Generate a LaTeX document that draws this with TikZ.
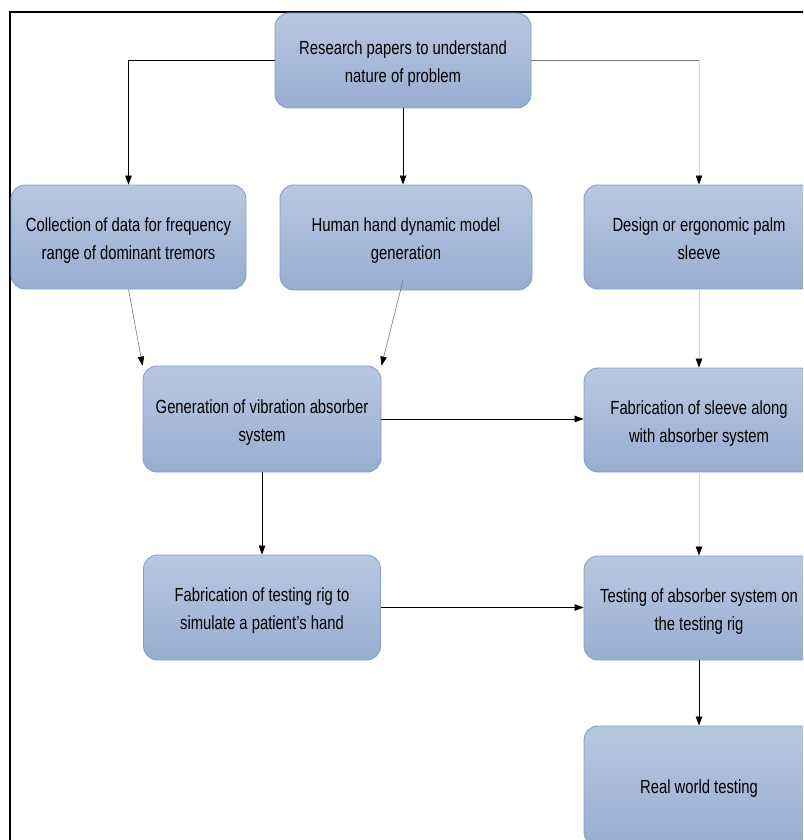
\documentclass[tikz,border=0pt]{standalone}
\usepackage{fontspec}
\setmainfont[FakeStretch=0.78]{Liberation Sans}
\usetikzlibrary{arrows.meta}
\definecolor{boxtop}{RGB}{184,200,225}
\definecolor{boxbot}{RGB}{151,173,209}
\definecolor{boxedge}{RGB}{132,158,203}
\definecolor{lightline}{RGB}{215,215,215}
\definecolor{midline}{RGB}{120,120,120}
\newcommand\myTS{\rule{0pt}{21pt}}
\newcommand\myBS{\rule[-5pt]{0pt}{5pt}}
\begin{document}
\begin{tikzpicture}[x=1pt,y=-1pt,
  box/.style={draw=boxedge, line width=0.9pt, rounded corners=14pt,
    top color=boxtop, bottom color=boxbot, align=center, inner sep=0pt,
    font=\fontsize{19}{28}\selectfont},
  tip/.style={-{Triangle[length=9pt,width=6.5pt,color=black]}},
  conn/.style={tip, line width=0.8pt, draw=black},
  lconn/.style={tip, line width=0.8pt, draw=lightline},
  dconn/.style={tip, line width=0.6pt, draw=midline}]
\useasboundingbox (0,0) rectangle (803,840);
\clip (0,0) rectangle (803,840);
\fill[white] (0,0) rectangle (803,840);
\draw[line width=2pt] (10,12) rectangle (840,880);

\node[box, minimum width=256pt, minimum height=95pt] (top) at (403,60.5)
  {\myTS Research papers to understand\\nature of problem\myBS};
\node[box, minimum width=235pt, minimum height=104pt] (coll) at (128.5,237)
  {\myTS Collection of data for frequency\\range of dominant tremors\myBS};
\node[box, minimum width=252pt, minimum height=105pt] (human) at (406,237.5)
  {\myTS Human hand dynamic model\\generation\myBS};
\node[box, minimum width=230pt, minimum height=104pt] (design) at (699,237)
  {\myTS Design or ergonomic palm\\sleeve\myBS};
\node[box, minimum width=238pt, minimum height=106pt] (gen) at (262,419)
  {\myTS Generation of vibration absorber\\system\myBS};
\node[box, minimum width=230pt, minimum height=104pt] (sleeve) at (699,420)
  {\myTS Fabrication of sleeve along\\with absorber system\myBS};
\node[box, minimum width=237pt, minimum height=105pt] (rig) at (262,607.5)
  {\myTS Fabrication of testing rig to\\simulate a patient's hand\myBS};
\node[box, minimum width=230pt, minimum height=104pt] (test) at (699,608)
  {\myTS Testing of absorber system on\\the testing rig\myBS};
\node[box, minimum width=230pt, minimum height=120pt] (real) at (699,786)
  {\rule{0pt}{20pt}Real world testing\myBS};

\coordinate (tr) at (top.east -| design.north);
\draw[conn] (top.west) -| (coll.north);
\draw[conn] (top.south) -- (top.south |- human.north);
\draw[midline, line width=0.8pt] (top.east) -- (tr);
\draw[lconn] (tr) -- (design.north);
\draw[dconn] (coll.south) -- (gen.north west);
\draw[dconn] ([xshift=-3pt,yshift=10pt]human.south) -- (gen.north east);
\draw[conn] (gen.east) -- (gen.east -| sleeve.west);
\draw[conn] (gen.south) -- (gen.south |- rig.north);
\draw[lconn] (design.south) -- (sleeve.north);
\draw[lconn] (sleeve.south) -- (test.north);
\draw[conn] (rig.east) -- (rig.east -| test.west);
\draw[conn] (test.south) -- (real.north);
\end{tikzpicture}
\end{document}
